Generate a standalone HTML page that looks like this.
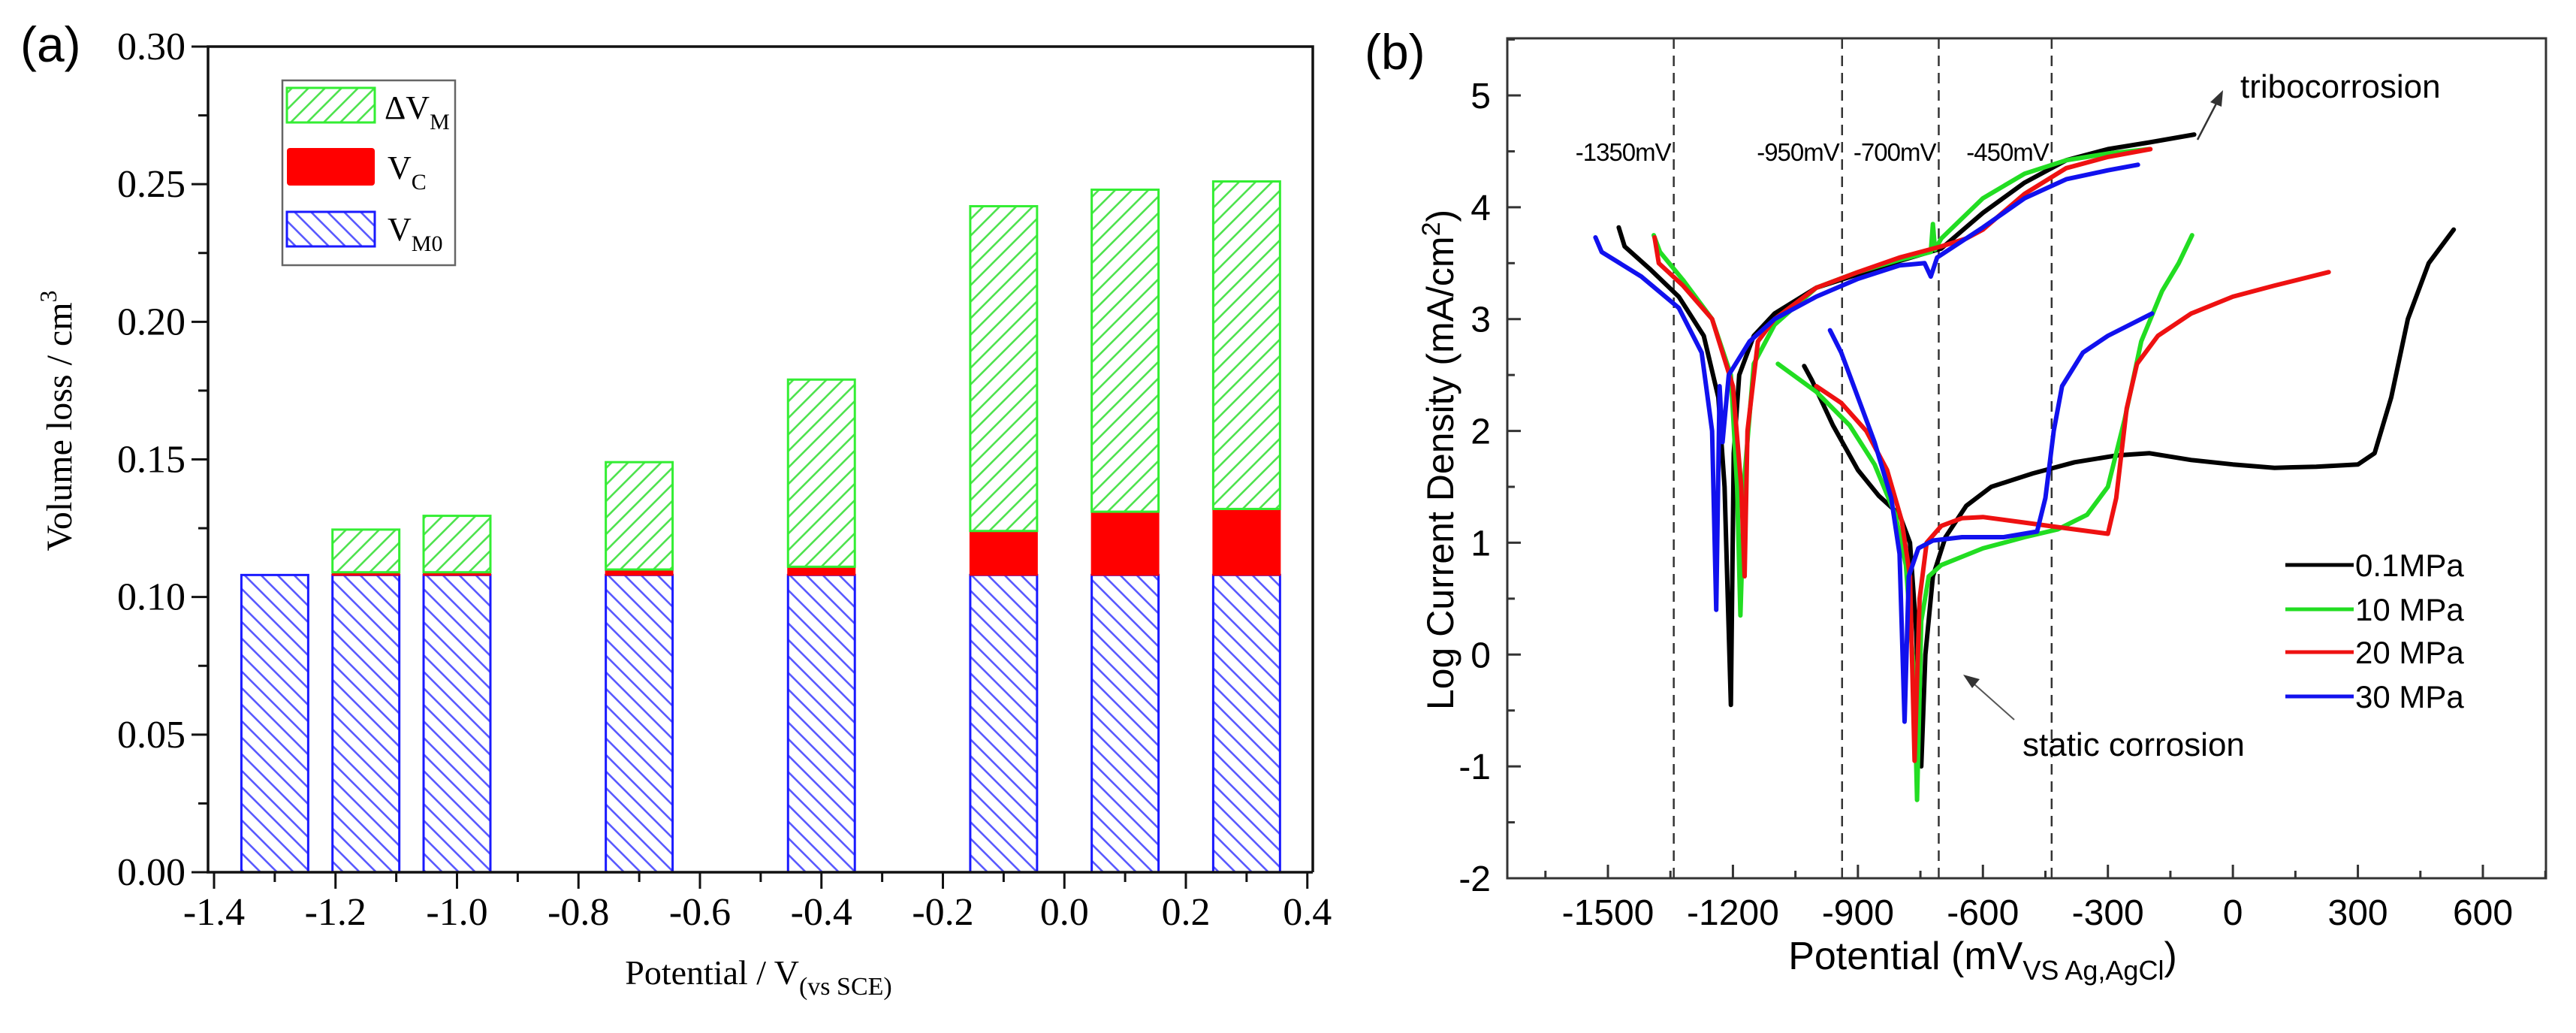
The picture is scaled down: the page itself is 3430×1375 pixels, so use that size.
<!DOCTYPE html>
<html><head><meta charset="utf-8"><style>
html,body{margin:0;padding:0;background:#fff;width:3430px;height:1375px;overflow:hidden}
svg{display:block}
.ser{font-family:"Liberation Serif",serif}
.san{font-family:"Liberation Sans",sans-serif}
</style></head><body>
<svg id="fig" width="3430" height="1375" viewBox="0 0 3430 1375" xmlns="http://www.w3.org/2000/svg">
<defs>
<pattern id="hb" patternUnits="userSpaceOnUse" width="22" height="22"><rect width="22" height="22" fill="#fff"/><path d="M-2,-2 L24,24 M-13,9 L13,35 M9,-13 L35,13" stroke="#5a5aff" stroke-width="2.6"/></pattern>
<pattern id="hg" patternUnits="userSpaceOnUse" width="22" height="22"><rect width="22" height="22" fill="#fff"/><path d="M-2,24 L24,-2 M-13,13 L13,-13 M9,35 L35,9" stroke="#4fe34f" stroke-width="2.6"/></pattern>
</defs>
<g id="pa"></g>
<g id="pb"></g>
</svg>
<script>
// ---------- Panel (a) data ----------
const aCategories = [-1.3, -1.15, -1.0, -0.7, -0.4, -0.1, 0.1, 0.3];
const aVM0 = [0.108, 0.108, 0.108, 0.108, 0.108, 0.108, 0.108, 0.108];
const aVC = [0, 0.001, 0.001, 0.002, 0.003, 0.016, 0.023, 0.024];
const aDVM = [0, 0.0155, 0.0205, 0.039, 0.068, 0.118, 0.117, 0.119];
const aYTicks = [0, 0.05, 0.10, 0.15, 0.20, 0.25, 0.30];
const aYTickLabels = ["0.00","0.05","0.10","0.15","0.20","0.25","0.30"];
const aXTicks = [-1.4,-1.2,-1.0,-0.8,-0.6,-0.4,-0.2,0.0,0.2,0.4];
const aXTickLabels = ["-1.4","-1.2","-1.0","-0.8","-0.6","-0.4","-0.2","0.0","0.2","0.4"];

// ---------- Panel (b) data ----------
const bXTicks = [-1500,-1200,-900,-600,-300,0,300,600];
const bXTickLabels = ["-1500","-1200","-900","-600","-300","0","300","600"];
const bYTicks = [-2,-1,0,1,2,3,4,5];
const bYTickLabels = ["-2","-1","0","1","2","3","4","5"];
const bDashX = [-1342,-938,-706,-435];
const bDashLabels = ["-1350mV","-950mV","-700mV","-450mV"];
const seriesNames = ["0.1MPa","10 MPa","20 MPa","30 MPa"];
const seriesColors = ["#000000","#22dd22","#ee1111","#1111ee"];
const triboBlack = [[-1474,3.82],[-1460,3.65],[-1400,3.45],[-1330,3.2],[-1270,2.85],[-1235,2.3],[-1220,1.5],[-1205,-0.45],[-1198,1.8],[-1185,2.5],[-1150,2.85],[-1100,3.05],[-1000,3.28],[-900,3.4],[-800,3.52],[-700,3.63],[-600,3.95],[-500,4.22],[-400,4.42],[-300,4.52],[-200,4.58],[-93,4.65]];
const triboGreen = [[-1390,3.75],[-1375,3.6],[-1320,3.35],[-1250,3.0],[-1205,2.5],[-1190,1.5],[-1182,0.35],[-1172,1.6],[-1150,2.6],[-1100,2.95],[-1000,3.28],[-900,3.42],[-800,3.53],[-725,3.6],[-720,3.85],[-715,3.62],[-700,3.72],[-600,4.08],[-500,4.3],[-400,4.42],[-300,4.48],[-200,4.52]];
const triboRed = [[-1388,3.73],[-1378,3.5],[-1320,3.3],[-1250,3.0],[-1200,2.4],[-1180,1.5],[-1172,0.7],[-1165,2.0],[-1140,2.8],[-1100,3.0],[-1000,3.28],[-900,3.42],[-800,3.55],[-700,3.65],[-640,3.72],[-600,3.8],[-500,4.12],[-400,4.35],[-300,4.45],[-198,4.52]];
const triboBlue = [[-1530,3.73],[-1515,3.6],[-1420,3.38],[-1330,3.1],[-1275,2.7],[-1250,2.0],[-1240,0.4],[-1232,2.4],[-1225,1.9],[-1210,2.5],[-1160,2.8],[-1100,3.0],[-1000,3.2],[-900,3.36],[-800,3.48],[-740,3.5],[-725,3.38],[-710,3.55],[-600,3.82],[-500,4.08],[-400,4.25],[-300,4.33],[-228,4.38]];
const staticBlack = [[-1029,2.58],[-1010,2.45],[-960,2.05],[-900,1.65],[-850,1.42],[-800,1.25],[-775,1.0],[-760,0.2],[-748,-1.0],[-738,0.0],[-720,0.7],[-690,1.05],[-640,1.33],[-580,1.5],[-480,1.62],[-380,1.72],[-280,1.78],[-200,1.8],[-100,1.74],[0,1.7],[100,1.67],[200,1.68],[300,1.7],[340,1.8],[380,2.3],[420,3.0],[470,3.5],[530,3.8]];
const staticGreen = [[-1092,2.6],[-1000,2.35],[-920,2.05],[-860,1.7],[-810,1.25],[-785,0.8],[-765,-0.2],[-758,-1.3],[-748,0.3],[-730,0.7],[-700,0.8],[-600,0.95],[-500,1.05],[-420,1.12],[-350,1.25],[-300,1.5],[-260,2.1],[-220,2.8],[-170,3.25],[-130,3.5],[-98,3.75]];
const staticRed = [[-1000,2.4],[-940,2.25],[-880,2.0],[-830,1.65],[-795,1.2],[-775,0.7],[-764,-0.95],[-752,0.5],[-735,1.0],[-700,1.15],[-650,1.22],[-600,1.23],[-500,1.18],[-400,1.13],[-300,1.08],[-280,1.4],[-255,2.2],[-230,2.6],[-180,2.85],[-100,3.05],[0,3.2],[100,3.3],[230,3.42]];
const staticBlue = [[-967,2.9],[-940,2.7],[-900,2.3],[-860,1.9],[-820,1.4],[-800,0.9],[-788,-0.6],[-778,0.7],[-755,0.95],[-720,1.02],[-650,1.05],[-550,1.05],[-470,1.1],[-450,1.4],[-430,2.0],[-410,2.4],[-360,2.7],[-300,2.85],[-194,3.05]];

const NS = "http://www.w3.org/2000/svg";
function mk(parent, tag, attrs, text){
  const el = document.createElementNS(NS, tag);
  for (const k in attrs) el.setAttribute(k, attrs[k]);
  if (text !== undefined) el.textContent = text;
  parent.appendChild(el);
  return el;
}

// ===== Panel (a) =====
const pa = document.getElementById('pa');
const aL = 277, aR = 1748, aT = 62, aB = 1161;
const ax = v => 285 + (v + 1.4) / 0.2 * 161.75;
const ay = v => aB - v / 0.3 * (aB - aT);
const barW = 0.11 / 0.2 * 161.75;

let el;
el = mk(pa, 'text', {x: 27, y: 82, 'font-size': 66, class: 'san'}, '(a)');
 

aCategories.forEach((c, i) => {
  const cx = ax(c), x0 = cx - barW / 2;
  const y0 = ay(0), y1 = ay(aVM0[i]), y2 = ay(aVM0[i] + aVC[i]), y3 = ay(aVM0[i] + aVC[i] + aDVM[i]);
  el = mk(pa, 'rect', {x: x0, y: y1, width: barW, height: y0 - y1, fill: 'url(#hb)', stroke: '#1a1aff', 'stroke-width': 3});
   
  if (aVC[i] > 0) {
    el = mk(pa, 'rect', {x: x0, y: y2, width: barW, height: y1 - y2, fill: '#ff0000', stroke: '#ff0000', 'stroke-width': 2});
     
  }
  if (aDVM[i] > 0) {
    el = mk(pa, 'rect', {x: x0, y: y3, width: barW, height: y2 - y3, fill: 'url(#hg)', stroke: '#33ee33', 'stroke-width': 3});
     
  }
});

// frame & axes
el = mk(pa, 'path', {d: `M${aL},${aB} L${aL},${aT} L${aR},${aT} L${aR},${aB} M${aL-2},${aB} L${aR},${aB}`, fill: 'none', stroke: '#111', 'stroke-width': 3.5});
 
for (let v = 0; v <= 0.3001; v += 0.025) {
  const major = Math.abs(v / 0.05 - Math.round(v / 0.05)) < 1e-6;
  mk(pa, 'line', {x1: aL - (major ? 22 : 13), x2: aL, y1: ay(v), y2: ay(v), stroke: '#111', 'stroke-width': 3});
}
aYTicks.forEach((v, i) => {
  el = mk(pa, 'text', {x: aL - 30, y: ay(v) + 17, 'font-size': 52, 'text-anchor': 'end', class: 'ser'}, aYTickLabels[i]);
   
});
for (let v = -1.4; v <= 0.4001; v += 0.1) {
  const major = Math.abs(v / 0.2 - Math.round(v / 0.2)) < 1e-6;
  mk(pa, 'line', {x1: ax(v), x2: ax(v), y1: aB, y2: aB + (major ? 22 : 13), stroke: '#111', 'stroke-width': 3});
}
aXTicks.forEach((v, i) => {
  el = mk(pa, 'text', {x: ax(v), y: aB + 70, 'font-size': 52, 'text-anchor': 'middle', class: 'ser'}, aXTickLabels[i]);
   
});
el = mk(pa, 'text', {x: 1010, y: 1310, 'font-size': 46, 'text-anchor': 'middle', class: 'ser'});
 
el.innerHTML = 'Potential / V<tspan font-size="34" dy="14">(vs SCE)</tspan>';
el = mk(pa, 'text', {transform: 'translate(95,560) rotate(-90)', 'font-size': 48, 'text-anchor': 'middle', class: 'ser'});
 
el.innerHTML = 'Volume loss / cm<tspan font-size="32" dy="-20">3</tspan>';

// legend
const lg = mk(pa, 'g', {});
 
mk(lg, 'rect', {x: 376, y: 107, width: 230, height: 246, fill: '#fff', stroke: '#666', 'stroke-width': 2.5});
mk(lg, 'rect', {x: 382, y: 117, width: 117, height: 46, fill: 'url(#hg)', stroke: '#33ee33', 'stroke-width': 3});
mk(lg, 'rect', {x: 382, y: 197, width: 117, height: 50, fill: '#ff0000', rx: 4});
mk(lg, 'rect', {x: 382, y: 282, width: 117, height: 46, fill: 'url(#hb)', stroke: '#1a1aff', 'stroke-width': 3});
el = mk(lg, 'text', {x: 512, y: 158, 'font-size': 44, class: 'ser'}); el.innerHTML = 'ΔV<tspan font-size="30" dy="14">M</tspan>';
 
el = mk(lg, 'text', {x: 516, y: 238, 'font-size': 44, class: 'ser'}); el.innerHTML = 'V<tspan font-size="30" dy="14">C</tspan>';
 
el = mk(lg, 'text', {x: 516, y: 320, 'font-size': 44, class: 'ser'}); el.innerHTML = 'V<tspan font-size="30" dy="14">M0</tspan>';
 

// ===== Panel (b) =====
const pb = document.getElementById('pb');
const bL = 2007, bR = 3390, bT = 51, bB = 1169;
const bx = v => 2141 + (v + 1500) * (1165 / 2100);
const by = v => 127 + (5 - v) * ((1169 - 127) / 7);

el = mk(pb, 'text', {x: 1817, y: 92, 'font-size': 66, class: 'san'}, '(b)');
 

bDashX.forEach((v, i) => {
  el = mk(pb, 'line', {x1: bx(v), x2: bx(v), y1: bT, y2: bB, stroke: '#333', 'stroke-width': 2.5, 'stroke-dasharray': '14,9'});
   
  el = mk(pb, 'text', {x: bx(v) - 4, y: 214, 'font-size': 33, 'text-anchor': 'end', class: 'san', 'letter-spacing': '-1'}, bDashLabels[i]);
   
});

const allSeries = [[triboBlack, staticBlack], [triboGreen, staticGreen], [triboRed, staticRed], [triboBlue, staticBlue]];
allSeries.forEach((pair, si) => {
  pair.forEach((pts, k) => {
    const d = pts.map((p, j) => (j ? 'L' : 'M') + bx(p[0]).toFixed(1) + ',' + by(p[1]).toFixed(1)).join(' ');
    el = mk(pb, 'path', {d: d, fill: 'none', stroke: seriesColors[si], 'stroke-width': 6, 'stroke-linejoin': 'round', 'stroke-linecap': 'round'});
     
  });
});

el = mk(pb, 'rect', {x: bL, y: bT, width: bR - bL, height: bB - bT, fill: 'none', stroke: '#333', 'stroke-width': 3});
 
for (let v = -1650; v <= 750; v += 150) {
  const major = (v % 300) === 0;
  mk(pb, 'line', {x1: bx(v), x2: bx(v), y1: bB, y2: bB - (major ? 18 : 10), stroke: '#333', 'stroke-width': 3});
}
bXTicks.forEach((v, i) => {
  el = mk(pb, 'text', {x: bx(v), y: bB + 62, 'font-size': 48, 'text-anchor': 'middle', class: 'san'}, bXTickLabels[i]);
   
});
for (let v = -2; v <= 5.5; v += 0.5) {
  const major = Math.abs(v - Math.round(v)) < 1e-6;
  mk(pb, 'line', {x1: bL, x2: bL + (major ? 18 : 10), y1: by(v), y2: by(v), stroke: '#333', 'stroke-width': 3});
}
bYTicks.forEach((v, i) => {
  el = mk(pb, 'text', {x: bL - 22, y: by(v) + 17, 'font-size': 48, 'text-anchor': 'end', class: 'san'}, bYTickLabels[i]);
   
});
el = mk(pb, 'text', {x: 2640, y: 1290, 'font-size': 52, 'text-anchor': 'middle', class: 'san'});
 
el.innerHTML = 'Potential (mV<tspan font-size="36" dy="14">VS Ag,AgCl</tspan><tspan dy="-14">)</tspan>';
el = mk(pb, 'text', {transform: 'translate(1935,612) rotate(-90)', 'font-size': 50, 'text-anchor': 'middle', class: 'san'});
 
el.innerHTML = 'Log Current Density (mA/cm<tspan font-size="34" dy="-18">2</tspan><tspan dy="18">)</tspan>';

// annotations
el = mk(pb, 'text', {x: 2983, y: 130, 'font-size': 44, class: 'san'}, 'tribocorrosion');
 
mk(pb, 'line', {x1: 2926, y1: 186, x2: 2952, y2: 136, stroke: '#333', 'stroke-width': 2.5});
mk(pb, 'path', {d: 'M2960,120 L2943,136 L2958,142 Z', fill: '#333'});
el = mk(pb, 'text', {x: 2693, y: 1006, 'font-size': 44, class: 'san'}, 'static corrosion');
 
mk(pb, 'line', {x1: 2682, y1: 958, x2: 2628, y2: 910, stroke: '#555', 'stroke-width': 2});
mk(pb, 'path', {d: 'M2614,898 L2636,904 L2626,916 Z', fill: '#333'});

// legend b
const lgb = mk(pb, 'g', {});
 
const legY = [752, 811, 868, 927];
seriesNames.forEach((n, i) => {
  el = mk(lgb, 'line', {x1: 3043, x2: 3134, y1: legY[i], y2: legY[i], stroke: seriesColors[i], 'stroke-width': 5});
   
  el = mk(lgb, 'text', {x: 3136, y: legY[i] + 15, 'font-size': 42, class: 'san'}, n);
   
});
</script>
</body></html>
